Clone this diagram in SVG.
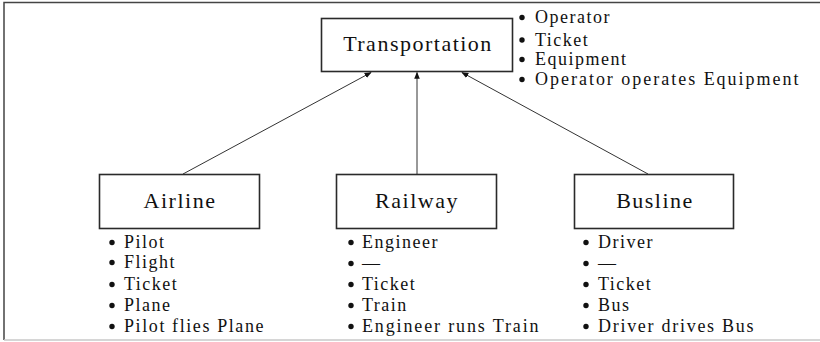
<svg xmlns="http://www.w3.org/2000/svg" width="820" height="342" viewBox="0 0 820 342">
<style>
.frame{fill:none;stroke:#444;stroke-width:1.5}
.box{fill:#fff;stroke:#2a2a2a;stroke-width:1.6}
.title{font-family:"Liberation Serif","DejaVu Serif",serif;font-size:22px;letter-spacing:1.5px;fill:#111;text-anchor:middle}
.item{font-family:"Liberation Serif","DejaVu Serif",serif;font-size:18px;letter-spacing:1.5px;fill:#111}
.bul{fill:#111}
.conn{stroke:#333;stroke-width:1;fill:none}
</style>
<defs>
<marker id="ah" viewBox="0 0 10 10" refX="9" refY="5" markerWidth="7" markerHeight="7" orient="auto" markerUnits="userSpaceOnUse">
<path d="M0,1 L10,5 L0,9 z" fill="#111"/>
</marker>
</defs>
<rect width="820" height="342" fill="#fff"/>
<path class="frame" d="M4,340 L4,2.5 L820,2.5"/>
<line x1="4" y1="340" x2="820" y2="340" stroke="#c8c8c8" stroke-width="1.5"/>

<g id="connectors">
<line class="conn" x1="183" y1="174" x2="371" y2="72.5" marker-end="url(#ah)"/>
<line class="conn" x1="417" y1="174" x2="417" y2="72.5" stroke-width="1.6" marker-end="url(#ah)"/>
<line class="conn" x1="648" y1="174" x2="462" y2="72.5" marker-end="url(#ah)"/>
</g>

<g id="transportation">
<rect class="box" x="321.5" y="18.5" width="191" height="53"/>
<text class="title" x="418" y="51">Transportation</text>
<circle class="bul" cx="522" cy="17.5" r="2.7"/>
<text class="item" x="535" y="23">Operator</text>
<circle class="bul" cx="522" cy="40" r="2.7"/>
<text class="item" x="535" y="45.5">Ticket</text>
<circle class="bul" cx="522" cy="59.5" r="2.7"/>
<text class="item" x="535" y="65">Equipment</text>
<circle class="bul" cx="522" cy="79.5" r="2.7"/>
<text class="item" x="535" y="85" textLength="265" lengthAdjust="spacing">Operator operates Equipment</text>
</g>

<g id="airline">
<rect class="box" x="99.5" y="174.5" width="160" height="54"/>
<text class="title" x="180" y="208">Airline</text>
<circle class="bul" cx="112" cy="242.5" r="2.7"/>
<text class="item" x="124" y="248">Pilot</text>
<circle class="bul" cx="112" cy="262.5" r="2.7"/>
<text class="item" x="124" y="268">Flight</text>
<circle class="bul" cx="112" cy="284.5" r="2.7"/>
<text class="item" x="124" y="290">Ticket</text>
<circle class="bul" cx="112" cy="305.5" r="2.7"/>
<text class="item" x="124" y="311">Plane</text>
<circle class="bul" cx="112" cy="326.5" r="2.7"/>
<text class="item" x="124" y="332" textLength="141" lengthAdjust="spacing">Pilot flies Plane</text>
</g>

<g id="railway">
<rect class="box" x="336.5" y="174.5" width="160" height="54"/>
<text class="title" x="417" y="208">Railway</text>
<circle class="bul" cx="351" cy="242.5" r="2.7"/>
<text class="item" x="362" y="248">Engineer</text>
<circle class="bul" cx="351" cy="263.5" r="2.7"/>
<text class="item" x="362" y="269">—</text>
<circle class="bul" cx="351" cy="284.5" r="2.7"/>
<text class="item" x="362" y="290">Ticket</text>
<circle class="bul" cx="351" cy="305.5" r="2.7"/>
<text class="item" x="362" y="311">Train</text>
<circle class="bul" cx="351" cy="326.5" r="2.7"/>
<text class="item" x="362" y="332" textLength="178" lengthAdjust="spacing">Engineer runs Train</text>
</g>

<g id="busline">
<rect class="box" x="574.5" y="174.5" width="159" height="54"/>
<text class="title" x="655" y="208">Busline</text>
<circle class="bul" cx="586" cy="242.5" r="2.7"/>
<text class="item" x="598" y="248">Driver</text>
<circle class="bul" cx="586" cy="263.5" r="2.7"/>
<text class="item" x="598" y="269">—</text>
<circle class="bul" cx="586" cy="284.5" r="2.7"/>
<text class="item" x="598" y="290">Ticket</text>
<circle class="bul" cx="586" cy="305.5" r="2.7"/>
<text class="item" x="598" y="311">Bus</text>
<circle class="bul" cx="586" cy="326.5" r="2.7"/>
<text class="item" x="598" y="332" textLength="157" lengthAdjust="spacing">Driver drives Bus</text>
</g>
</svg>
